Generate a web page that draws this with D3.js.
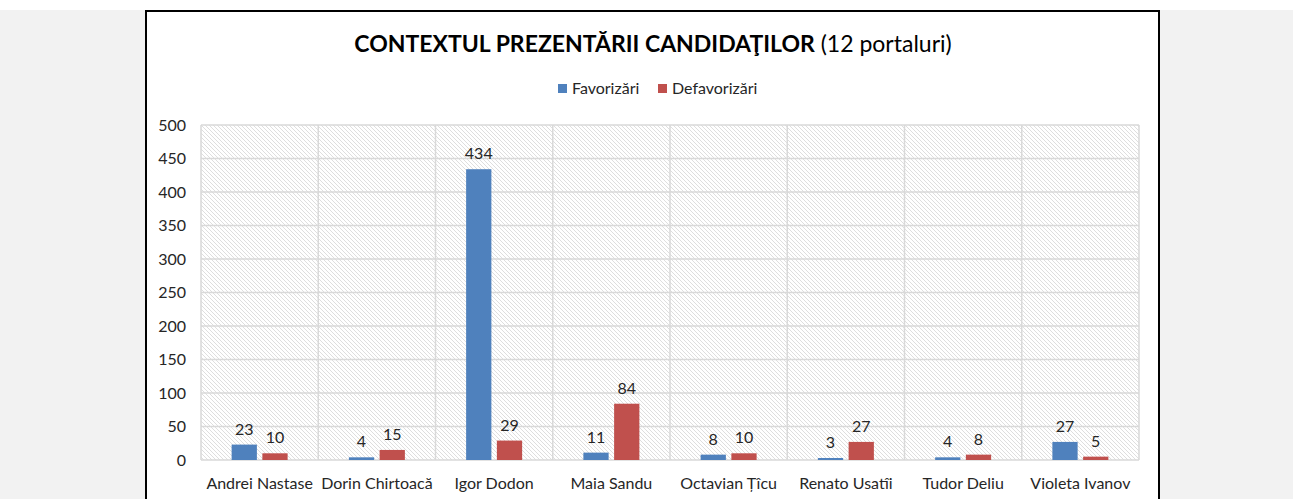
<!DOCTYPE html>
<html><head><meta charset="utf-8">
<script src="https://cdn.jsdelivr.net/npm/d3@7"></script>
<style>
html,body{margin:0;padding:0;background:#fff;}
svg{display:block;}
</style></head>
<body>
<svg id="c" width="1293" height="499"></svg>
<script>
const categories = ["Andrei Nastase","Dorin Chirtoacă","Igor Dodon","Maia Sandu","Octavian Țîcu","Renato Usatîi","Tudor Deliu","Violeta Ivanov"];
const favorizari = [23,4,434,11,8,3,4,27];
const defavorizari = [10,15,29,84,10,27,8,5];
const seriesNames = ["Favorizări","Defavorizări"];
const yTicks = [0,50,100,150,200,250,300,350,400,450,500];

const colors = ["#4f81bd","#c0504d"];
const font = "Lato, 'Open Sans', sans-serif";
const svg = d3.select("#c");
const W = 1293, H = 499;

// page background
svg.append("rect").attr("x",0).attr("y",0).attr("width",W).attr("height",H).attr("fill","#fff");
svg.append("rect").attr("x",0).attr("y",10).attr("width",W).attr("height",H-10).attr("fill","#f2f2f2");
// chart box
svg.append("rect").attr("x",146).attr("y",11).attr("width",1013).attr("height",H).attr("fill","#fff").attr("stroke","#000").attr("stroke-width",2);

const defs = svg.append("defs");
const pat = defs.append("pattern").attr("id","hatch").attr("patternUnits","userSpaceOnUse").attr("width",4).attr("height",4);
pat.append("rect").attr("width",4).attr("height",4).attr("fill","#fff");
pat.append("path").attr("d","M0,0 L4,4 M-1,3 L1,5 M3,-1 L5,1").attr("stroke","#dedede").attr("stroke-width",1);

const x0 = 201, x1 = 1139, yTop = 125, yBot = 460;
const x = d3.scaleBand().domain(categories).range([x0,x1]).paddingInner(0).paddingOuter(0);
const y = d3.scaleLinear().domain([0,500]).range([yBot,yTop]);
const xs = d3.scaleBand().domain(seriesNames).range([0,56]).paddingInner(10/56);

svg.append("rect").attr("x",x0).attr("y",yTop).attr("width",x1-x0).attr("height",yBot-yTop).attr("fill","url(#hatch)");

// horizontal grid
svg.append("g").selectAll("line").data(yTicks).join("line")
  .attr("x1",x0).attr("x2",x1).attr("y1",d=>y(d)).attr("y2",d=>y(d))
  .attr("stroke","#d9d9d9").attr("stroke-width",1.5);
// vertical grid at category boundaries
const bounds = categories.map(c=>x(c)).concat([x1]);
svg.append("g").selectAll("line").data(bounds).join("line")
  .attr("x1",d=>d).attr("x2",d=>d).attr("y1",yTop).attr("y2",yBot)
  .attr("stroke","#d9d9d9").attr("stroke-width",1.5);

// y axis labels
const yAxis = d3.axisLeft(y).tickValues(yTicks).tickSize(0).tickPadding(0);
const ga = svg.append("g").attr("transform",`translate(186,0)`).call(yAxis);
ga.select(".domain").remove();
ga.selectAll("text").attr("font-family",font).attr("font-size",16).attr("fill","#262626").attr("dy","0.34em");

// x axis labels
const xAxis = d3.axisBottom(x).tickSize(0).tickPadding(0);
const gx = svg.append("g").attr("transform",`translate(0,${yBot})`).call(xAxis);
gx.select(".domain").remove();
gx.selectAll("text").attr("font-family",font).attr("font-size",16).attr("fill","#262626").attr("dy","0").attr("y",29);

// bars
const data = categories.map((c,i)=>({c, vals:[favorizari[i],defavorizari[i]]}));
const off = (x.bandwidth()-56)/2;
const g = svg.append("g");
data.forEach(d=>{
  d.vals.forEach((v,j)=>{
    const bx = x(d.c)+off+xs(seriesNames[j]);
    g.append("rect").attr("x",bx).attr("y",y(v)).attr("width",xs.bandwidth()).attr("height",yBot-y(v)).attr("fill",colors[j]);
    g.append("text").attr("x",bx+xs.bandwidth()/2).attr("y",y(v)-10).attr("text-anchor","middle")
      .attr("font-family",font).attr("font-size",16).attr("fill","#262626").text(v);
  });
});

// title
const t = svg.append("text").attr("x",653).attr("y",52).attr("text-anchor","middle").attr("font-family",font).attr("fill","#000");
t.append("tspan").attr("font-weight","bold").attr("font-size",23).text("CONTEXTUL PREZENTĂRII CANDIDAŢILOR");
t.append("tspan").attr("font-size",23).text(" (12 portaluri)");

// legend
const leg = svg.append("g");
const lx = [558, 658];
seriesNames.forEach((s,i)=>{
  leg.append("rect").attr("x",lx[i]).attr("y",84).attr("width",9).attr("height",9).attr("fill",colors[i]);
  leg.append("text").attr("x",lx[i]+14).attr("y",94).attr("font-family",font).attr("font-size",16).attr("fill","#262626").text(s);
});
</script>
</body></html>
